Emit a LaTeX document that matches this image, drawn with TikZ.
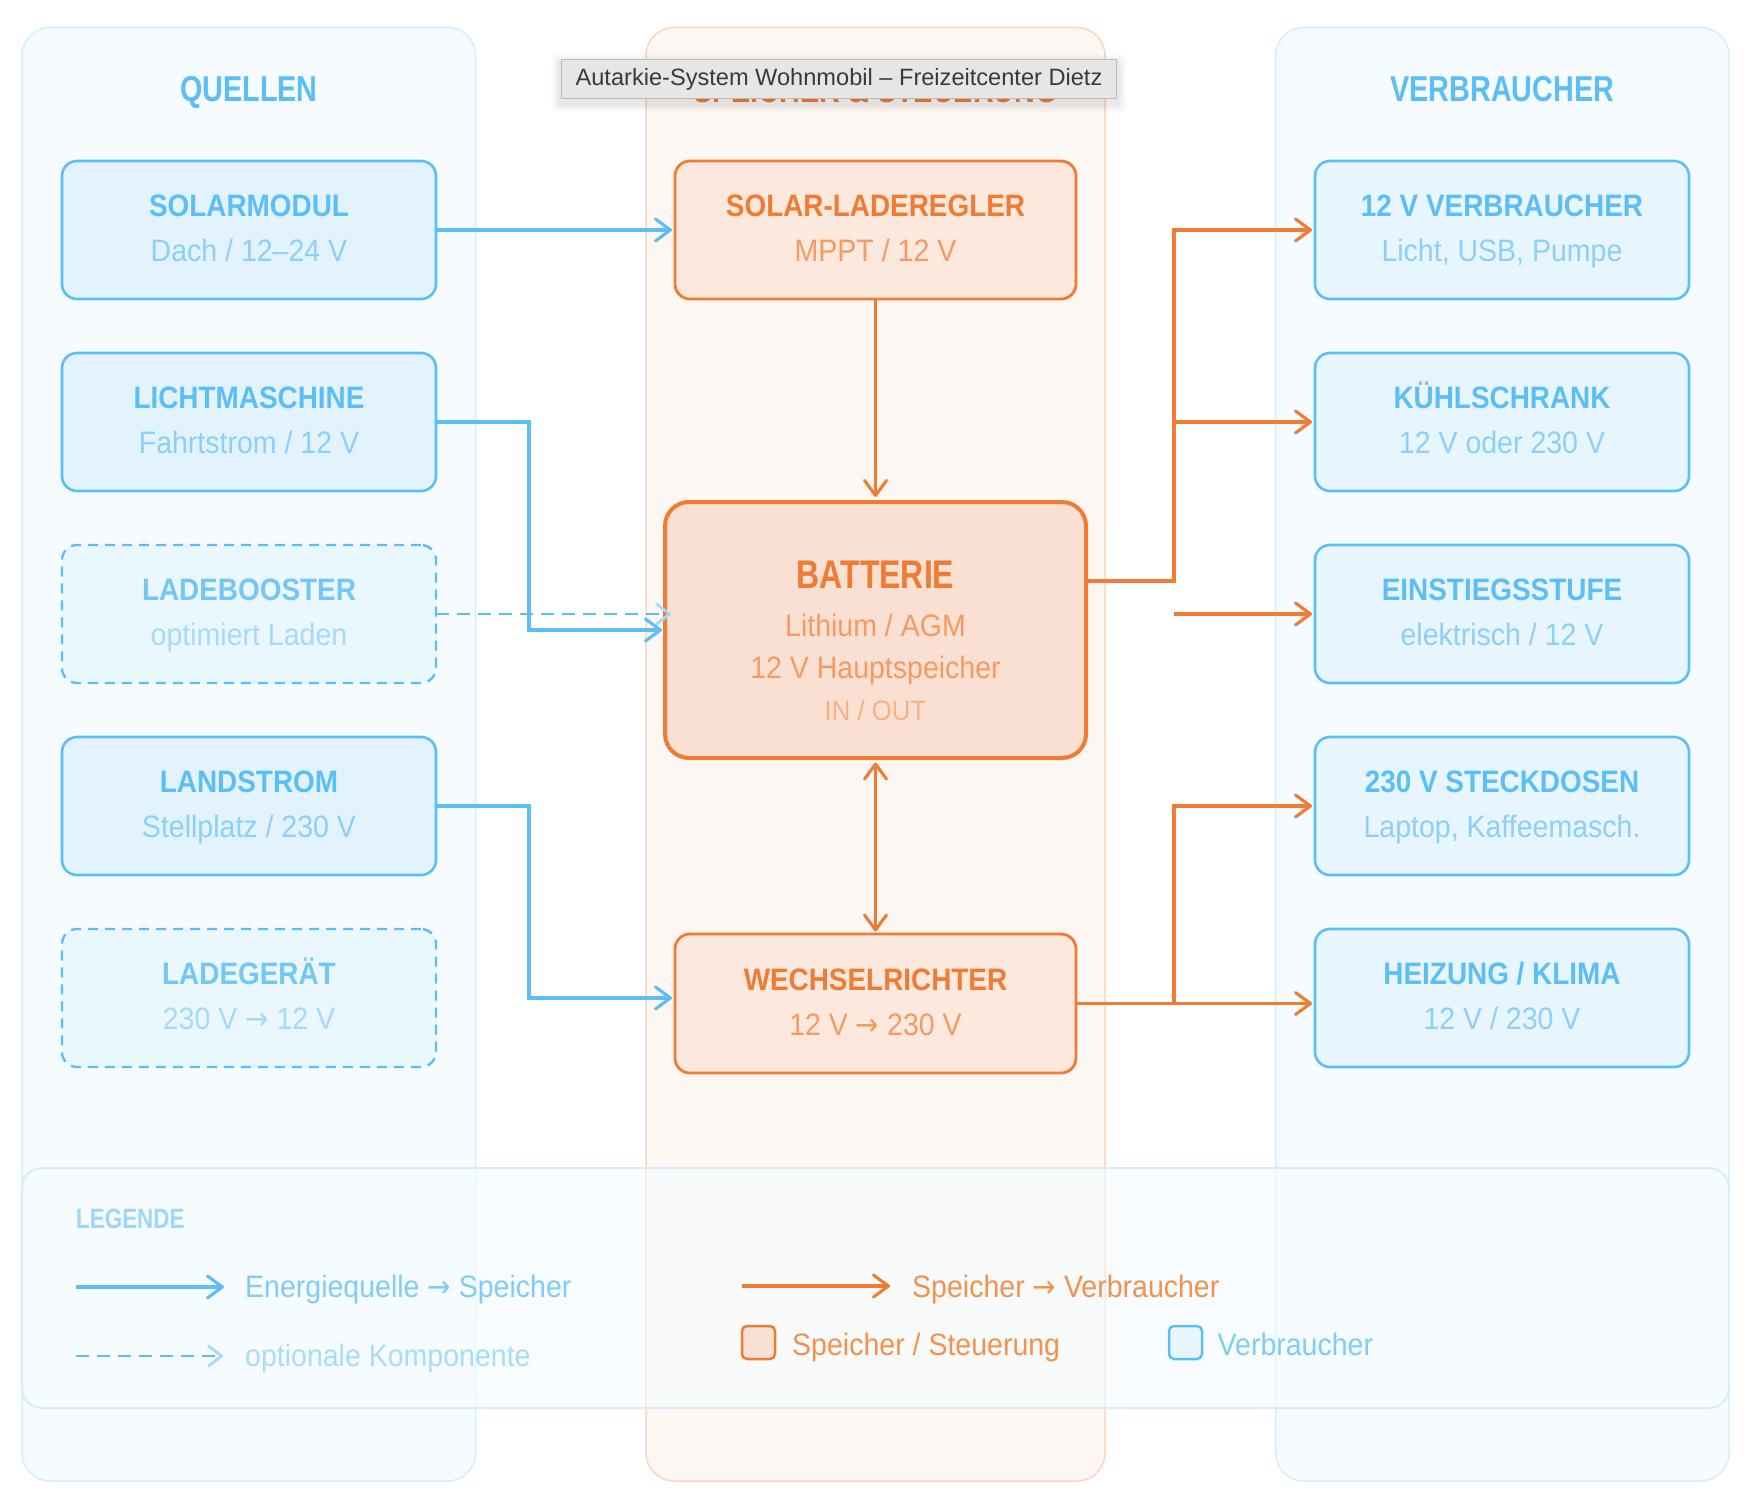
\documentclass[tikz,border=0pt]{standalone}
\usepackage{fontspec}
\setmainfont{Liberation Sans}[FakeStretch=0.92]
\newfontfamily\hfont{Liberation Sans}[FakeStretch=0.8]
\newfontfamily\tfont{Liberation Sans}[FakeStretch=0.9]
\newfontfamily\tipfont{Liberation Sans}
\newfontfamily\arrfont{DejaVu Sans}[FakeStretch=0.9]
\newcommand\arr{{\arrfont →}}
\usetikzlibrary{arrows.meta,calc}

\definecolor{cBlue}{HTML}{5BBEF7}
\definecolor{cBlueSub}{HTML}{8CCFF8}
\definecolor{cBlueOptT}{HTML}{72C7F7}
\definecolor{cBlueOptS}{HTML}{A5DAF9}
\definecolor{cBlueHead}{HTML}{9FD7F9}
\definecolor{cPanB}{HTML}{D6EEFC}
\definecolor{cPanBF}{HTML}{F5FBFF}
\definecolor{cPanO}{HTML}{F9D6C2}
\definecolor{cPanOF}{HTML}{FDF7F3}
\definecolor{cBoxL}{HTML}{E2F3FE}
\definecolor{cBoxR}{HTML}{E7F5FE}
\definecolor{cBoxOpt}{HTML}{EBF7FE}
\definecolor{cOr}{HTML}{F07B33}
\definecolor{cOrSub}{HTML}{F39B62}
\definecolor{cOrLight}{HTML}{F6B187}
\definecolor{cOrLeg}{HTML}{F2924E}
\definecolor{cCtl}{HTML}{FCE8DD}
\definecolor{cBat}{HTML}{FAE0D2}
\definecolor{cLegB}{HTML}{7ECCF7}
\definecolor{cLegOpt}{HTML}{A8DCF9}
\definecolor{cTipF}{HTML}{E4E6E8}
\definecolor{cTipD}{HTML}{B9BBBD}
\definecolor{cTipT}{HTML}{3A3A3A}

\tikzset{
  panelB/.style={draw=cPanB, fill=cPanBF, line width=1.5pt, rounded corners=28pt,
    inner sep=0pt, outer sep=0pt},
  panelO/.style={draw=cPanO, fill=cPanOF, line width=1.5pt, rounded corners=28pt,
    inner sep=0pt, outer sep=0pt},
  legpanel/.style={draw=cPanB, fill=cPanBF, fill opacity=0.55, line width=2pt,
    rounded corners=20pt, inner sep=0pt, outer sep=0pt},
  srcbox/.style={draw=cBlue, fill=cBoxL, line width=2.6pt, rounded corners=15pt,
    minimum width=374pt, minimum height=138pt, inner sep=0pt, outer sep=0pt},
  optbox/.style={srcbox, fill=cBoxOpt, line width=2.4pt, dash pattern=on 10pt off 7pt},
  conbox/.style={srcbox, fill=cBoxR},
  ctlbox/.style={draw=cOr, fill=cCtl, line width=2.8pt, rounded corners=15pt,
    minimum width=401pt, minimum height=138pt, inner sep=0pt, outer sep=0pt},
  batbox/.style={draw=cOr, fill=cBat, line width=4pt, rounded corners=24pt,
    minimum width=421pt, minimum height=256pt, inner sep=0pt, outer sep=0pt},
  ttl/.style={font=\tfont\bfseries\fontsize{31}{36}\selectfont, inner sep=0pt, anchor=base},
  sub/.style={font=\fontsize{31}{36}\selectfont, inner sep=0pt, anchor=base},
  hdr/.style={font=\hfont\bfseries\fontsize{36}{42}\selectfont, inner sep=0pt, anchor=base},
  legtxt/.style={font=\fontsize{31}{36}\selectfont, inner sep=0pt, anchor=base west},
  barrow/.style={draw=cBlue, line width=3.1pt,
    -{Straight Barb[length=15pt,width=22pt,round]}},
  oarrow/.style={draw=cOr, line width=3.1pt,
    -{Straight Barb[length=15pt,width=22pt,round]}},
  obiarrow/.style={draw=cOr, line width=3.1pt,
    {Straight Barb[length=15pt,width=22pt,round]}-{Straight Barb[length=15pt,width=22pt,round]}},
  dbarrow/.style={draw=cBlue, line width=2.8pt, dash pattern=on 13pt off 8pt,
    -{Straight Barb[length=13pt,width=20pt,round,color=cBlueOptS]}},
  swatch/.style={line width=2.5pt, rounded corners=5pt, minimum width=33pt,
    minimum height=33pt, inner sep=0pt, outer sep=0pt},
  tipbox/.style={draw=cTipD, fill=cTipF, line width=1pt, minimum width=555pt,
    minimum height=39pt, inner sep=0pt, outer sep=0pt}
}

% name, style, x, y, title, sub, title colour, sub colour
\newcommand\tbox[8]{%
  \node[#2] (#1) at (#3,#4) {};
  \node[ttl, text=#7] (#1-t) at ($(#1.center)+(0,-13.5)$) {#5};
  \node[sub, text=#8] (#1-s) at ($(#1.center)+(0,31.7)$) {#6};
}

\begin{document}
\begin{tikzpicture}[x=1pt, y=-1pt]
\useasboundingbox (0,0) rectangle (1758,1506);
\fill[white] (0,0) rectangle (1758,1506);

% column panels
\node[panelB, minimum width=453.7pt, minimum height=1453.5pt] (colL) at (248.85,754.25) {};
\node[panelO, minimum width=459pt, minimum height=1453.5pt] (colC) at (875.5,754.25) {};
\node[panelB, minimum width=453.3pt, minimum height=1453.5pt] (colR) at (1502.35,754.25) {};

% legend panel
\node[legpanel, minimum width=1707pt, minimum height=240pt] (legend) at (875.5,1288) {};

% headers
\node[hdr, text=cBlue] (hQ) at (248.85,102) {QUELLEN};
\node[hdr, text=cOr] (hS) at (875.5,103) {SPEICHER \& STEUERUNG};
\node[hdr, text=cBlue] (hV) at (1502.35,102) {VERBRAUCHER};

% sources
\tbox{solar}{srcbox}{249}{230}{SOLARMODUL}{Dach / 12–24 V}{cBlue}{cBlueSub}
\tbox{licht}{srcbox}{249}{422}{LICHTMASCHINE}{Fahrtstrom / 12 V}{cBlue}{cBlueSub}
\tbox{boost}{optbox}{249}{614}{LADEBOOSTER}{optimiert Laden}{cBlueOptT}{cBlueOptS}
\tbox{land}{srcbox}{249}{806}{LANDSTROM}{Stellplatz / 230 V}{cBlue}{cBlueSub}
\tbox{ladeg}{optbox}{249}{998}{LADEGERÄT}{230 V \arr{} 12 V}{cBlueOptT}{cBlueOptS}

% consumers
\tbox{v12}{conbox}{1502}{230}{12 V VERBRAUCHER}{Licht, USB, Pumpe}{cBlue}{cBlueSub}
\tbox{kuehl}{conbox}{1502}{422}{KÜHLSCHRANK}{12 V oder 230 V}{cBlue}{cBlueSub}
\tbox{stufe}{conbox}{1502}{614}{EINSTIEGSSTUFE}{elektrisch / 12 V}{cBlue}{cBlueSub}
\tbox{st230}{conbox}{1502}{806}{230 V STECKDOSEN}{Laptop, Kaffeemasch.}{cBlue}{cBlueSub}
\tbox{heiz}{conbox}{1502}{998}{HEIZUNG / KLIMA}{12 V / 230 V}{cBlue}{cBlueSub}

% storage & control
\tbox{lr}{ctlbox}{875.5}{230}{SOLAR-LADEREGLER}{MPPT / 12 V}{cOr}{cOrSub}
\tbox{wr}{ctlbox, minimum height=139pt}{875.5}{1003.5}{WECHSELRICHTER}{12 V \arr{} 230 V}{cOr}{cOrSub}
\node[batbox] (batt) at (875.5,630) {};
\node[hdr, text=cOr, font=\hfont\bfseries\fontsize{40}{45}\selectfont] (batt-t) at ($(batt.center)+(0,-42)$) {BATTERIE};
\node[sub, text=cOrSub] (batt-s1) at ($(batt.center)+(0,6)$) {Lithium / AGM};
\node[sub, text=cOrSub] (batt-s2) at ($(batt.center)+(0,48.3)$) {12 V Hauptspeicher};
\node[sub, text=cOrLight, font=\fontsize{28}{32}\selectfont] (batt-s3) at ($(batt.center)+(0,90.7)$) {IN / OUT};

% connectors: sources -> storage
\draw[barrow, shorten >=3pt] (solar.east) -- (lr.west);
\draw[barrow, shorten >=3pt] (licht.east) -- ++(93,0) |- (batt.west);
\draw[dbarrow, shorten >=-6pt] (boost.east) -- (boost.east -| batt.west);
\draw[barrow, shorten >=3pt] (land.east) -- ++(93,0) |- (wr.west |- ladeg.east);

% storage internal
\draw[oarrow, shorten >=5pt] (lr.south) -- (batt.north);
\draw[obiarrow, shorten <=4.5pt, shorten >=2.5pt] (batt.south) -- (wr.north);

% storage -> consumers
\coordinate (jx) at (1174,0);
\coordinate (bo) at ($(batt.east)+(0,-49)$);
\draw[oarrow, shorten >=3pt] (bo) -- (bo -| jx) |- (v12.west);
\draw[oarrow, shorten >=3pt] (jx |- kuehl.west) -- (kuehl.west);
\draw[oarrow, shorten >=3pt] (jx |- stufe.west) -- (stufe.west);
\draw[oarrow, shorten >=3pt] (wr.east) -- (wr.east -| heiz.west);
\draw[oarrow, shorten >=3pt] (jx |- wr.east) |- (st230.west);

% legend
\node[font=\hfont\bfseries\fontsize{28}{32}\selectfont, text=cBlueHead, inner sep=0pt, anchor=base west] (legT) at (76,1228) {LEGENDE};
\coordinate (lA1) at (76,1287);
\coordinate (lA2) at (224,1287);
\draw[barrow] (lA1) -- (lA2);
\node[legtxt, text=cLegB] (lAt) at (245,1297) {Energiequelle \arr{} Speicher};
\coordinate (lB1) at (76,1356);
\coordinate (lB2) at (223,1356);
\draw[dbarrow] (lB1) -- (lB2);
\node[legtxt, text=cLegOpt] (lBt) at (245,1366) {optionale Komponente};
\coordinate (lC1) at (742,1286);
\coordinate (lC2) at (890,1286);
\draw[oarrow] (lC1) -- (lC2);
\node[legtxt, text=cOrLeg] (lCt) at (912,1297) {Speicher \arr{} Verbraucher};
\node[swatch, draw=cOr, fill=cBat] (swO) at (758.5,1342.5) {};
\node[legtxt, text=cOrLeg] (swOt) at (792,1355) {Speicher / Steuerung};
\node[swatch, draw=cBlue, fill=cBoxR] (swB) at (1185.5,1342.5) {};
\node[legtxt, text=cLegB] (swBt) at (1217.5,1355) {Verbraucher};

% tooltip with soft shadow
\foreach \s/\o in {10/0.02,7/0.03,4/0.04}{
  \fill[black, opacity=\o, rounded corners=5pt]
    (561.6-\s,59.3-\s+4) rectangle (1116.5+\s,98.3+\s+4);
}
\node[tipbox] (tip) at (839,78.8) {};
\node[font=\tipfont\fontsize{23.6}{27}\selectfont, text=cTipT, inner sep=0pt, anchor=base] (tipt) at (839,86) {Autarkie-System Wohnmobil – Freizeitcenter Dietz};
\end{tikzpicture}
\end{document}
